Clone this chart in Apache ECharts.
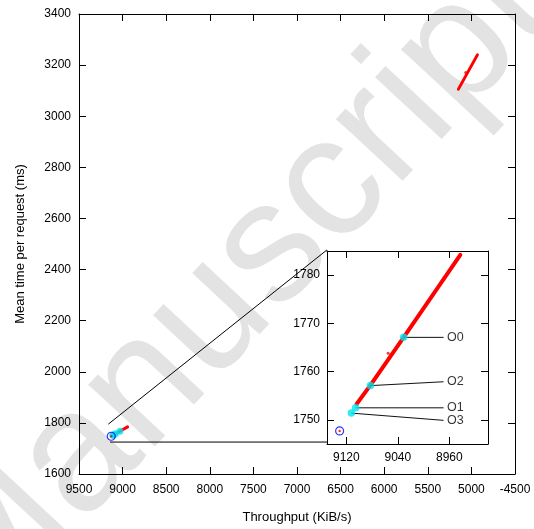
<!DOCTYPE html>
<html><head><meta charset="utf-8">
<script src="https://cdn.jsdelivr.net/npm/echarts@6/dist/echarts.min.js"></script>
<style>html,body{margin:0;padding:0;background:#fff}#c{width:534px;height:529px}</style>
</head><body><div id="c"></div>
<script>
// ---- tick labels ----
const xTickValues = [9500, 9000, 8500, 8000, 7500, 7000, 6500, 6000, 5500, 5000, 4500];
const xTickLabels = ['9500', '9000', '8500', '8000', '7500', '7000', '6500', '6000', '5500', '5000', '-4500'];
const insetXTicks = [9120, 9040, 8960];
const insetYTicks = [1750, 1760, 1770, 1780];

// ---- data (throughput KiB/s, mean time ms) ----
const redLowX = [9104, 9083, 9031, 8943];
const redLowY = [1753.3, 1757.1, 1767.1, 1784.2];
const redLowStrayX = [9055];
const redLowStrayY = [1763.8];
const redHighX = [5149, 4931];
const redHighY = [3106, 3240];
const redHighStrayX = [5065];
const redHighStrayY = [3171];
const optNames = ['O0', 'O2', 'O1', 'O3'];
const optX = [9031, 9082.6, 9105.5, 9112.2];
const optY = [1767.1, 1757.1, 1752.5, 1751.4];
const optLabelX = 8969;
const optLabelY = [1767.1, 1757.9, 1752.5, 1749.9];
const refX = [9130.4];
const refY = [1747.7];
// zoom connector lines (main axes coordinates)
const connFromX = [9164, 9144];
const connFromY = [1795, 1725];
const connToX = [6656, 6656];
const connToY = [2477, 1725];

const zip = (xs, ys) => xs.map((x, i) => [x, ys[i]]);
const FONT = 'Liberation Sans';
const black = '#000';

function boxAxes(grid, base, ticks) {
  const common = Object.assign({
    type: 'value', gridIndex: grid, scale: false,
    axisLine: { show: true, onZero: false, lineStyle: { color: black, width: 1 } },
    axisTick: { show: true, inside: true, length: 7, lineStyle: { color: black, width: 1 } },
    splitLine: { show: false }
  }, base);
  const p = JSON.parse(JSON.stringify(common));
  const m = JSON.parse(JSON.stringify(common));
  m.axisLabel = { show: false };
  if (ticks) { m.axisTick.customValues = ticks; m.axisLabel.customValues = ticks; }
  return [p, m];
}

const mainXBase = { min: 4500, max: 9500, interval: 500, inverse: true };
const mainYBase = { min: 1600, max: 3400, interval: 200 };
const inXBase = { min: 8900, max: 9150, inverse: true };
const inYBase = { min: 1745, max: 1785 };

const [mx0, mx1] = boxAxes(0, mainXBase);
const [my0, my1] = boxAxes(0, mainYBase);
const [ix0, ix1] = boxAxes(1, inXBase, insetXTicks);
const [iy0, iy1] = boxAxes(1, inYBase, insetYTicks);

mx0.position = 'bottom'; mx1.position = 'top';
my0.position = 'left'; my1.position = 'right';
ix0.position = 'bottom'; ix1.position = 'top';
iy0.position = 'left'; iy1.position = 'right';

const plain = v => String(v);

mx0.axisLabel = {
  show: true, margin: 10, fontSize: 12, color: black, fontFamily: FONT,
  interval: 0, hideOverlap: false, showMinLabel: true, showMaxLabel: true,
  formatter: v => { const i = xTickValues.indexOf(v); return i >= 0 ? xTickLabels[i] : ''; }
};
mx0.name = 'Throughput (KiB/s)';
mx0.nameLocation = 'middle';
mx0.nameGap = 37;
mx0.nameTextStyle = { fontSize: 13, color: black, fontFamily: FONT };

my0.axisLabel = { show: true, margin: 8, fontSize: 12, color: black, fontFamily: FONT, showMinLabel: true, showMaxLabel: true, formatter: plain };
my0.name = 'Mean time per request (ms)';
my0.nameLocation = 'middle';
my0.nameGap = 52;
my0.nameTextStyle = { fontSize: 13, color: black, fontFamily: FONT };

ix0.axisTick.customValues = insetXTicks;
ix0.axisLabel = { show: true, margin: 8, fontSize: 12, color: black, fontFamily: FONT, customValues: insetXTicks, formatter: plain };
iy0.axisTick.customValues = insetYTicks;
iy0.axisLabel = { show: true, margin: 7, fontSize: 12, color: black, fontFamily: FONT, customValues: insetYTicks, formatter: plain };

const series = [];
function addGroup(xi, yi) {
  series.push({ type: 'line', xAxisIndex: xi, yAxisIndex: yi, data: zip(redLowX, redLowY), symbol: 'none',
    lineStyle: { color: '#ff0000', width: xi === 0 ? 3 : 4, cap: 'round', join: 'round' }, z: 3, silent: true });
  series.push({ type: 'scatter', xAxisIndex: xi, yAxisIndex: yi, data: zip(redLowStrayX, redLowStrayY), symbolSize: 3,
    itemStyle: { color: '#ff0000' }, z: 3, silent: true });
  series.push({ type: 'scatter', xAxisIndex: xi, yAxisIndex: yi, data: zip(refX, refY), symbol: 'circle', symbolSize: 8,
    itemStyle: { color: 'rgba(0,0,0,0)', borderColor: '#0000ff', borderWidth: 1.2 }, z: 5, silent: true });
  series.push({ type: 'scatter', xAxisIndex: xi, yAxisIndex: yi, data: zip(refX, refY), symbolSize: 2.5,
    itemStyle: { color: '#ff0000' }, z: 6, silent: true });
}
addGroup(0, 0);
series.push({ type: 'line', xAxisIndex: 0, yAxisIndex: 0, data: zip(redHighX, redHighY), symbol: 'none',
  lineStyle: { color: '#ff0000', width: 3, cap: 'round' }, z: 3, silent: true });
series.push({ type: 'scatter', xAxisIndex: 0, yAxisIndex: 0, data: zip(redHighStrayX, redHighStrayY), symbolSize: 3,
  itemStyle: { color: '#ff0000' }, z: 3, silent: true });
series.push({ type: 'scatter', xAxisIndex: 0, yAxisIndex: 0, data: zip(optX, optY), symbolSize: 7,
  itemStyle: { color: '#00e5ee' }, z: 4, silent: true });
connFromX.forEach((x, i) => {
  series.push({ type: 'line', xAxisIndex: 0, yAxisIndex: 0, data: [[x, connFromY[i]], [connToX[i], connToY[i]]],
    symbol: 'none', lineStyle: { color: black, width: 1 }, z: 2, silent: true });
});

addGroup(2, 2);
optNames.forEach((n, i) => {
  series.push({ type: 'line', xAxisIndex: 2, yAxisIndex: 2, data: [[optX[i], optY[i]], [optLabelX, optLabelY[i]]],
    symbol: 'none', lineStyle: { color: '#111', width: 1 }, z: 3, silent: true });
});
series.push({ type: 'scatter', xAxisIndex: 2, yAxisIndex: 2, data: zip(optX, optY), symbolSize: 7.5,
  itemStyle: { color: '#00e5ee' }, z: 6, silent: true });
series.push({ type: 'scatter', xAxisIndex: 2, yAxisIndex: 2,
  data: optNames.map((n, i) => [optLabelX, optLabelY[i], n]), symbolSize: 1,
  itemStyle: { color: 'rgba(0,0,0,0)' },
  label: { show: true, position: 'right', distance: 3, formatter: p => p.data[2], fontSize: 12.5, color: black, fontFamily: FONT },
  z: 6, silent: true });

const chart = echarts.init(document.getElementById('c'), null, { renderer: 'canvas' });
chart.setOption({
  animation: false,
  backgroundColor: '#fff',
  textStyle: { fontFamily: FONT },
  graphic: [{
    type: 'text', x: 236, y: 290, rotation: 47 * Math.PI / 180, z: -10, silent: true,
    style: { text: 'Manuscript', fontSize: 172, fontFamily: FONT, fill: '#e3e3e3', align: 'center', verticalAlign: 'middle' }
  }],
  grid: [
    { left: 79, top: 14, width: 436, height: 462, containLabel: false },
    { left: 327, top: 251, width: 161, height: 193, containLabel: false }
  ],
  xAxis: [mx0, mx1, ix0, ix1],
  yAxis: [my0, my1, iy0, iy1],
  series: series
});
</script></body></html>
